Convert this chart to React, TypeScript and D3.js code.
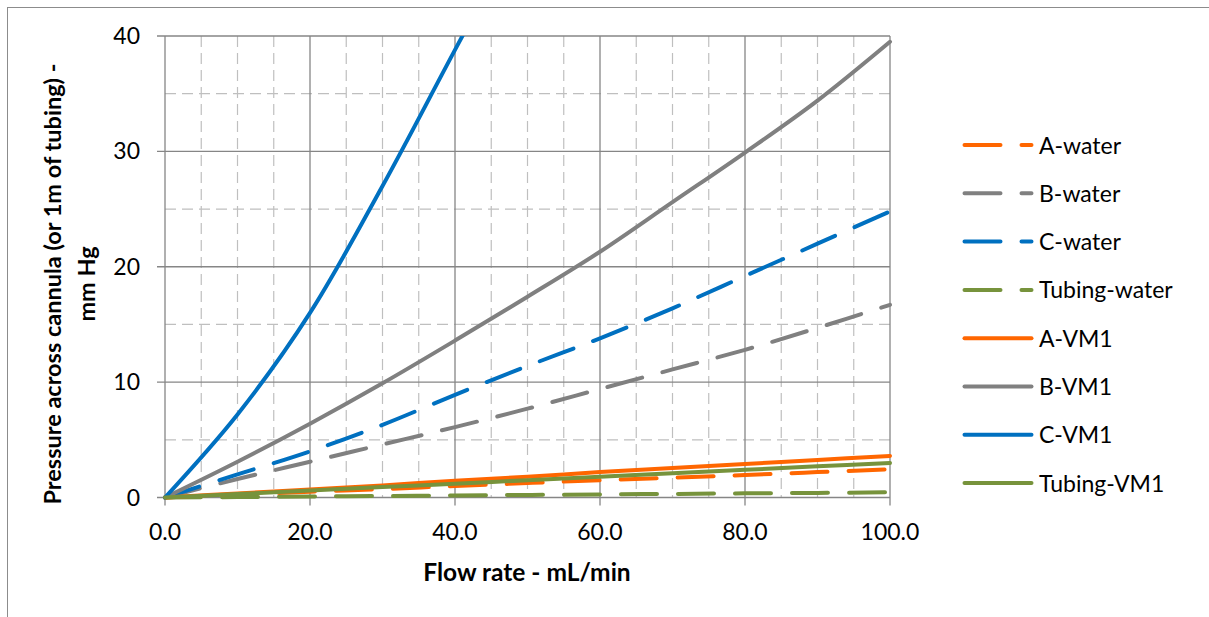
import React, { useEffect, useRef } from 'react';
import * as d3 from 'd3';

// flow rate (mL/min) and pressure (mm Hg)
const flowRates = [0, 10, 20, 30, 40, 50, 60, 70, 80, 90, 100];
const aWater = [0, 0.25, 0.5, 0.73, 1.0, 1.25, 1.5, 1.72, 1.95, 2.2, 2.45];
const bWater = [0, 1.6, 3.1, 4.6, 6.1, 7.7, 9.4, 11.1, 12.8, 14.7, 16.7];
const cWater = [0, 2.0, 4.0, 6.3, 8.9, 11.4, 13.8, 16.4, 19.2, 22.0, 24.8];
const tubingWater = [0, 0.04, 0.09, 0.13, 0.18, 0.22, 0.27, 0.31, 0.36, 0.4, 0.45];
const aVM1 = [0, 0.35, 0.7, 1.05, 1.45, 1.8, 2.2, 2.55, 2.9, 3.25, 3.6];
const bVM1 = [0, 3.1, 6.4, 9.9, 13.6, 17.4, 21.3, 25.6, 29.9, 34.4, 39.5];
const cVM1 = [0, 7.2, 16.0, 27.0, 38.8, 50.5];
const tubingVM1 = [0, 0.3, 0.6, 0.9, 1.2, 1.5, 1.8, 2.1, 2.4, 2.7, 3.0];

const seriesNames = ['A-water', 'B-water', 'C-water', 'Tubing-water', 'A-VM1', 'B-VM1', 'C-VM1', 'Tubing-VM1'];
const seriesValues = [aWater, bWater, cWater, tubingWater, aVM1, bVM1, cVM1, tubingVM1];
const seriesColors = ['#FF6600', '#808080', '#0070C0', '#77933C', '#FF6600', '#808080', '#0070C0', '#77933C'];
const seriesDashed = [true, true, true, true, false, false, false, false];

const xTicks = [0, 20, 40, 60, 80, 100];
const xMinor = [5, 10, 15, 25, 30, 35, 45, 50, 55, 65, 70, 75, 85, 90, 95];
const yTicks = [0, 10, 20, 30, 40];
const yMinor = [5, 15, 25, 35];

const FONT = 'Lato, "Open Sans", sans-serif';

function draw(node: SVGSVGElement) {
  const width = 1209, height = 617;
  const svg = d3.select(node);
  svg.selectAll('*').remove();
  svg.attr('width', width).attr('height', height);

  svg.append('rect').attr('width', width).attr('height', height).attr('fill', '#fff');
  // chart border
  svg.append('rect')
     .attr('x', 7.5).attr('y', 7.5)
     .attr('width', width).attr('height', height)
     .attr('fill', 'none').attr('stroke', '#8c8c8c').attr('stroke-width', 1);

  const x = d3.scaleLinear().domain([0, 100]).range([165, 890]);
  const y = d3.scaleLinear().domain([0, 40]).range([497.5, 36]);

  // minor grid
  const grid = svg.append('g');
  grid.selectAll('.vminor').data(xMinor).join('line')
      .attr('x1', d => x(d)).attr('x2', d => x(d))
      .attr('y1', y(40)).attr('y2', y(0))
      .attr('stroke', '#bfbfbf').attr('stroke-width', 1.2).attr('stroke-dasharray', '11 6');
  grid.selectAll('.hminor').data(yMinor).join('line')
      .attr('y1', d => y(d)).attr('y2', d => y(d))
      .attr('x1', x(0)).attr('x2', x(100))
      .attr('stroke', '#bfbfbf').attr('stroke-width', 1.2).attr('stroke-dasharray', '11 6');

  // major grid
  grid.selectAll('.vmajor').data(xTicks).join('line')
      .attr('x1', d => x(d)).attr('x2', d => x(d))
      .attr('y1', y(40)).attr('y2', y(0) + 8)
      .attr('stroke', '#868686').attr('stroke-width', 1.3);
  grid.selectAll('.hmajor').data(yTicks).join('line')
      .attr('y1', d => y(d)).attr('y2', d => y(d))
      .attr('x1', x(0) - 8).attr('x2', x(100))
      .attr('stroke', '#868686').attr('stroke-width', 1.3);

  // tick labels
  svg.append('g').selectAll('text').data(yTicks).join('text')
     .attr('x', 140).attr('y', d => y(d))
     .attr('dy', '0.35em')
     .attr('text-anchor', 'end')
     .attr('font-family', FONT).attr('font-size', 23).attr('fill', '#000')
     .text(d => d3.format('d')(d));
  svg.append('g').selectAll('text').data(xTicks).join('text')
     .attr('x', d => x(d)).attr('y', 540)
     .attr('text-anchor', 'middle')
     .attr('font-family', FONT).attr('font-size', 23).attr('fill', '#000')
     .text(d => d3.format('.1f')(d));

  // axis titles
  svg.append('text')
     .attr('x', 527).attr('y', 581)
     .attr('text-anchor', 'middle')
     .attr('font-family', FONT).attr('font-size', 24.5).attr('font-weight', 'bold')
     .text('Flow rate - mL/min');
  const yTitle = svg.append('text')
     .attr('transform', 'translate(0,284) rotate(-90)')
     .attr('text-anchor', 'middle')
     .attr('font-family', FONT).attr('font-size', 23.5).attr('font-weight', 'bold');
  yTitle.append('tspan').attr('x', 0).attr('y', 61).text('Pressure across cannula (or 1m of tubing) -');
  yTitle.append('tspan').attr('x', 0).attr('y', 95).text('mm Hg');

  // series, clipped to the plot area like the original
  svg.append('clipPath').attr('id', 'plot-clip')
     .append('rect')
     .attr('x', x(0) - 4).attr('y', y(40))
     .attr('width', x(100) - x(0) + 8).attr('height', y(0) - y(40) + 4);

  const line = d3.line<[number, number]>()
                 .x(d => x(d[0]))
                 .y(d => y(d[1]))
                 .curve(d3.curveCatmullRom.alpha(0.5));

  const plot = svg.append('g').attr('clip-path', 'url(#plot-clip)');
  seriesNames.forEach((name, i) => {
    const pts = seriesValues[i].map((v, j) => [flowRates[j], v] as [number, number]);
    plot.append('path')
        .attr('d', line(pts))
        .attr('fill', 'none')
        .attr('stroke', seriesColors[i])
        .attr('stroke-width', 4)
        .attr('stroke-linecap', 'round')
        .attr('stroke-linejoin', 'round')
        .attr('stroke-dasharray', seriesDashed[i] ? '36 21' : null);
  });

  // legend
  const legend = svg.append('g');
  seriesNames.forEach((name, i) => {
    const ly = 145 + i * 48.3;
    legend.append('line')
          .attr('x1', 964.5).attr('x2', 1031.5)
          .attr('y1', ly).attr('y2', ly)
          .attr('stroke', seriesColors[i])
          .attr('stroke-width', 4)
          .attr('stroke-linecap', 'round')
          .attr('stroke-dasharray', seriesDashed[i] ? '36 21' : null);
    legend.append('text')
          .attr('x', 1039).attr('y', ly + 8.5)
          .attr('font-family', FONT).attr('font-size', 23).attr('fill', '#000')
          .text(name);
  });
}

export default function App() {
  const ref = useRef<SVGSVGElement>(null);

  useEffect(() => {
    if (ref.current) draw(ref.current);
  }, []);

  return (
    <svg ref={ref} style={{ position: 'absolute', left: 0, top: 0, display: 'block' }} />
  );
}
